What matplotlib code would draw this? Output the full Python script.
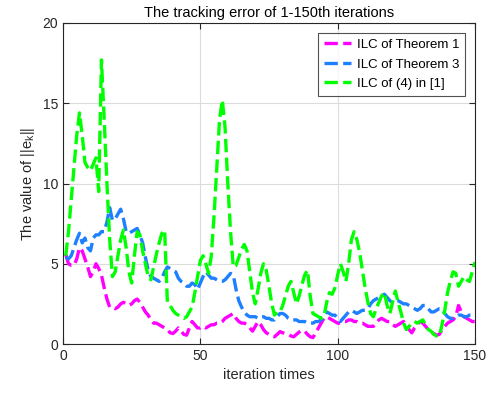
import matplotlib
matplotlib.use("Agg")
import matplotlib.pyplot as plt
import numpy as np

plt.rcParams["font.family"] = ["Liberation Sans", "DejaVu Sans"]
plt.rcParams["mathtext.fontset"] = "custom"
plt.rcParams["mathtext.rm"] = "Liberation Sans"

iterations = np.arange(1, 151)

# ILC of Theorem 1 (magenta)
err_thm1 = [
    5.6, 5.0, 4.9, 4.9, 5.3, 6.0, 5.8, 5.3, 4.8, 4.2,
    4.5, 5.0, 4.7, 4.3, 3.5, 2.8, 2.3, 2.3, 2.2, 2.3,
    2.5, 2.6, 2.5, 2.4, 2.5, 2.7, 2.8, 2.6, 2.3, 2.0,
    1.8, 1.5, 1.3, 1.3, 1.2, 1.1, 1.0, 0.9, 0.7, 0.65,
    0.8, 1.0, 0.8, 0.6, 0.55, 1.0, 1.4, 1.2, 1.0, 1.0,
    1.1, 1.0, 1.1, 1.2, 1.2, 1.3, 1.3, 1.4, 1.6, 1.7,
    1.8, 1.9, 1.6, 1.4, 1.3, 1.3, 1.2, 1.0, 0.8, 1.1,
    1.4, 1.2, 0.9, 0.7, 0.6, 0.5, 0.45, 0.6, 0.77, 0.7,
    0.65, 0.6, 0.5, 0.45, 0.6, 0.75, 0.85, 0.8, 0.6, 0.45,
    0.4, 0.7, 1.0, 1.3, 1.6, 1.7, 1.6, 1.5, 1.4, 1.3,
    1.3, 1.4, 1.4, 1.5, 1.5, 1.4, 1.4, 1.3, 1.3, 1.2,
    1.1, 1.1, 1.1, 1.3, 1.5, 1.6, 1.5, 1.4, 1.4, 1.2,
    1.1, 1.2, 1.3, 1.4, 1.1, 0.9, 0.7, 1.0, 1.2, 1.4,
    1.3, 1.1, 0.9, 0.75, 0.65, 0.55, 0.6, 0.9, 1.1, 1.3,
    1.4, 1.5, 1.7, 2.4, 2.0, 1.7, 1.6, 1.5, 1.4, 1.4,
]

# ILC of Theorem 3 (blue)
err_thm3 = [
    5.4, 5.3, 5.5, 6.0, 6.5, 6.9, 6.3, 6.6, 6.0, 5.8,
    6.6, 6.8, 6.8, 7.0, 7.0, 7.6, 8.5, 7.7, 7.8, 8.1,
    8.4, 7.8, 7.0, 6.9, 7.0, 7.1, 7.2, 6.8, 6.3, 5.4,
    4.6, 4.2, 4.1, 4.0, 3.9, 4.1, 4.5, 4.8, 4.7, 4.6,
    4.5, 4.1, 3.9, 3.8, 3.6, 3.6, 3.8, 3.7, 3.4, 3.8,
    4.2, 4.5, 4.3, 4.1, 4.1, 4.0, 3.9, 3.9, 4.0, 4.2,
    4.4, 4.3, 3.4, 2.7, 2.3, 2.0, 1.8, 1.7, 1.7, 1.7,
    1.6, 1.7, 1.7, 1.6, 1.6, 1.5, 1.5, 1.7, 1.9, 1.9,
    1.8, 1.6, 1.5, 1.5, 1.5, 1.4, 1.4, 1.4, 1.3, 1.3,
    1.3, 1.4, 1.4, 1.5, 1.8, 2.0, 1.9, 1.8, 1.8, 1.6,
    1.4, 1.6, 1.8, 2.0, 2.1, 2.0, 1.9, 2.0, 2.1, 2.1,
    2.2, 2.5, 2.7, 2.8, 2.9, 3.0, 3.1, 2.9, 2.7, 2.6,
    2.7, 2.7, 2.6, 2.5, 2.5, 2.4, 2.3, 2.2, 2.1, 2.2,
    2.4, 2.4, 2.2, 2.0, 2.0, 2.1, 2.2, 2.2, 1.9, 1.7,
    1.6, 1.6, 1.7, 1.8, 1.8, 1.7, 1.7, 1.8, 1.8, 1.7,
]

# ILC of (4) in [1] (green)
err_ref = [
    5.5, 7.0, 9.0, 11.0, 13.0, 14.4, 13.0, 11.3, 11.0, 10.8,
    11.2, 11.6, 9.5, 17.7, 14.0, 10.0, 6.5, 4.2, 4.5, 5.5,
    6.5, 7.1, 6.0, 4.5, 3.8, 5.5, 7.0, 6.8, 5.8, 5.0,
    4.2, 4.0, 4.8, 5.6, 6.3, 6.9, 7.1, 2.6, 2.4, 2.1,
    1.9, 1.8, 1.7, 1.6, 1.7, 2.0, 2.3, 3.2, 4.2, 5.2,
    5.5, 5.0, 4.4, 5.5, 8.0, 11.0, 14.0, 15.2, 13.5, 10.0,
    7.0, 4.8, 4.9, 5.4, 5.9, 6.2, 5.8, 4.5, 3.2, 2.5,
    3.4, 4.4, 5.0, 4.6, 3.6, 2.5, 1.8, 2.0, 2.0, 2.4,
    3.0, 3.6, 3.9, 3.2, 2.5, 3.0, 3.7, 4.3, 4.6, 3.0,
    1.9, 1.8, 1.7, 1.6, 1.7, 2.6, 3.2, 3.1, 3.5, 4.3,
    5.0, 4.5, 3.9, 5.0, 6.5, 7.0, 6.5, 5.7, 4.6, 3.5,
    2.6, 1.9, 1.7, 2.2, 2.6, 3.0, 3.2, 2.4, 1.9, 2.6,
    3.3, 2.6, 2.0, 1.3, 0.9, 1.1, 1.3, 1.4, 1.3, 1.4,
    1.5, 1.2, 0.9, 0.8, 0.6, 0.5, 0.5, 1.2, 2.1, 3.2,
    3.9, 4.5, 4.4, 3.6, 3.9, 4.2, 4.0, 3.9, 4.5, 5.1,
]

labels = ["ILC of Theorem 1", "ILC of Theorem 3", "ILC of (4) in [1]"]
colors = ["#ff00ff", "#1e7fff", "#00ff00"]

fig = plt.figure(figsize=(4.9, 3.98), dpi=100)
ax = fig.add_axes([63 / 490, 54 / 398, 412 / 490, 321 / 398])

for y, lab, c in zip([err_thm1, err_thm3, err_ref], labels, colors):
    ax.plot(iterations, y, color=c, linewidth=2.4, dashes=(4, 1.6), label=lab)

ax.set_xlim(0, 150)
ax.set_ylim(0, 20)
ax.set_xticks([0, 50, 100, 150])
ax.set_yticks([0, 5, 10, 15, 20])
ax.grid(True, color="#dcdcdc", linewidth=0.8)
ax.set_axisbelow(True)
for s in ax.spines.values():
    s.set_color("#262626")
    s.set_linewidth(0.8)
ax.tick_params(direction="in", top=True, right=True, length=4,
               labelsize=10, colors="#262626", width=0.8)

ax.set_xlabel("iteration times", fontsize=10.5, color="#262626")
ax.set_ylabel("The value of ||e$_\\mathrm{k}$||", fontsize=10.5, color="#262626")
ax.set_title("The tracking error of 1-150th iterations", fontsize=10.5,
             color="black", pad=4)

leg = ax.legend(loc="upper right", fontsize=9.5, frameon=True, fancybox=False,
                edgecolor="#262626", borderpad=0.45, handlelength=2.1,
                handletextpad=0.4, labelspacing=0.55, borderaxespad=0.75)
leg.get_frame().set_linewidth(0.8)

fig.savefig("out.png", dpi=100)
